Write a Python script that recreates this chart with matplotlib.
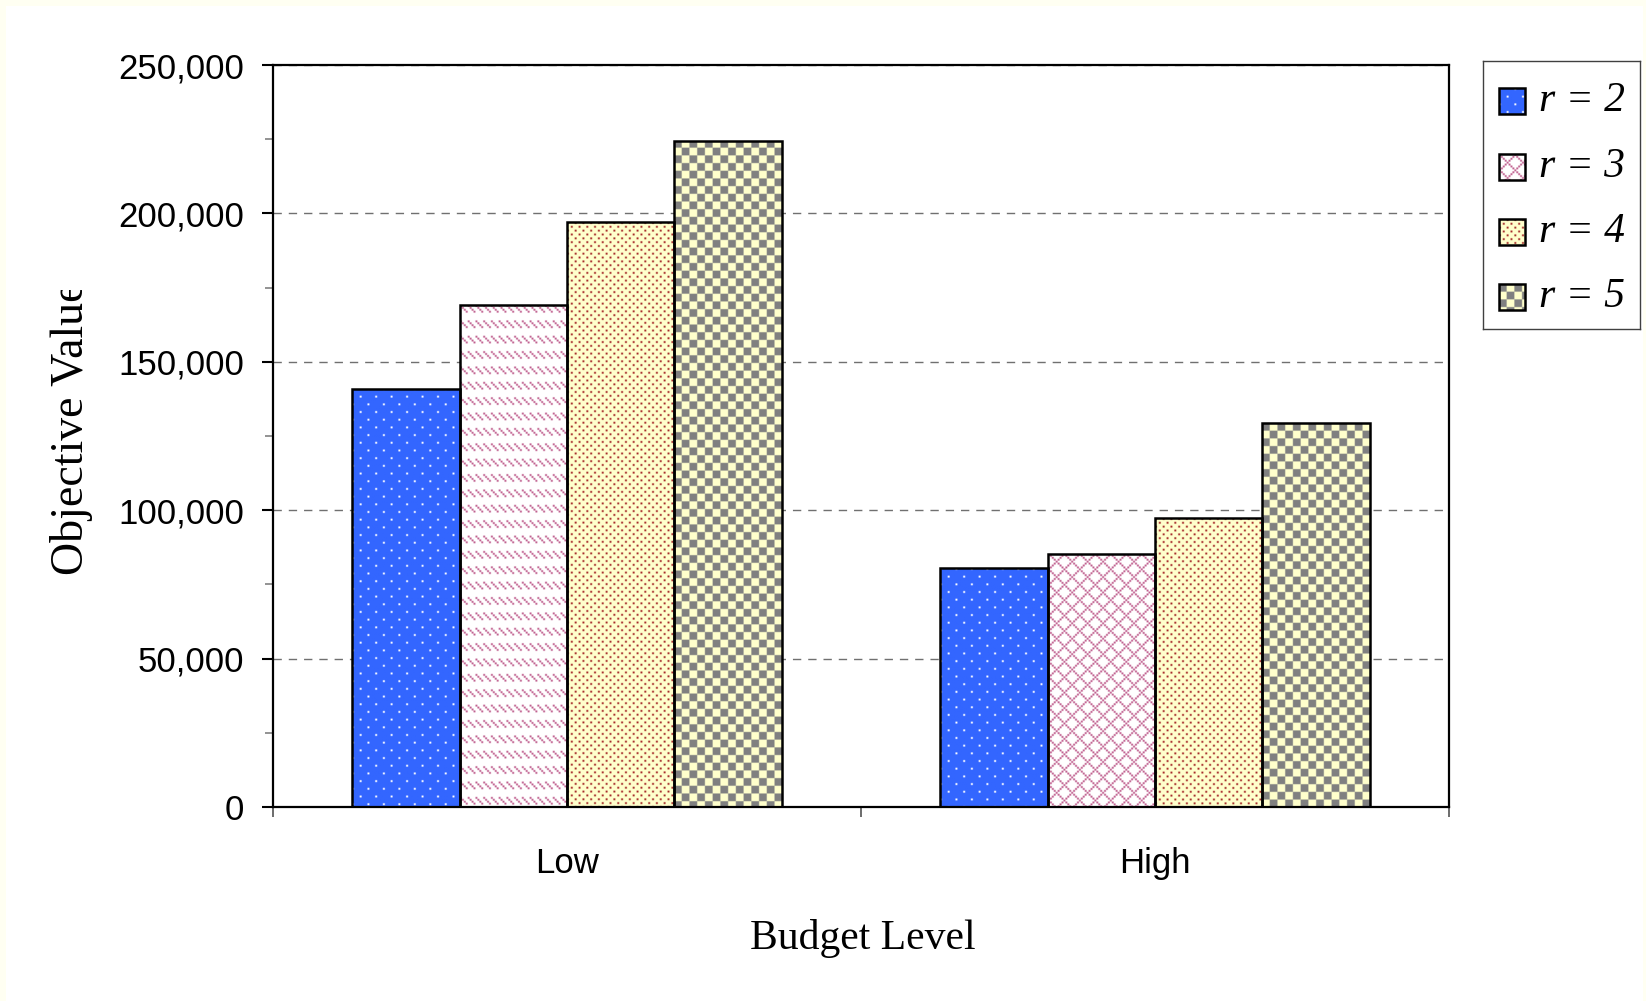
import numpy as np
import matplotlib
matplotlib.use('Agg')
import matplotlib.pyplot as plt
from matplotlib.patches import Rectangle
from matplotlib.ticker import FuncFormatter, MultipleLocator
from matplotlib.transforms import Bbox, TransformedBbox

budget_levels = ['Low', 'High']
series_labels = ['r = 2', 'r = 3', 'r = 4', 'r = 5']
values_low = [141000, 169000, 197000, 224500]
values_high = [80500, 85300, 97300, 129300]
y_ticks = [0, 50000, 100000, 150000, 200000, 250000]

W_PX, H_PX, DPI = 1646, 1001, 100
UNIT = 1.92  # screen pixels per pattern cell

# fill pattern per series (Low group uses a dashed diagonal for r = 3)
fills_low = ['dots5', 'dashdiag', 'dots25', 'checker']
fills_high = ['dots5', 'cross', 'dots25', 'checker']
fg_colors = ['#ffffff', '#c0608f', '#a52a2a', '#808080']
bg_colors = ['#3366ff', '#ffffff', '#ffffcc', '#ffffcc']


def tile_mask(name):
    r, c = np.mgrid[0:8, 0:8]
    if name == 'dots5':
        return ((r == 0) & (c == 0)) | ((r == 4) & (c == 4))
    if name == 'dots25':
        return (r % 2 == 0) & (c % 4 == r % 4)
    if name == 'dashdiag':
        return (r < 4) & (c % 4 == r)
    if name == 'cross':
        return ((r - c) % 8 == 0) | ((r + c) % 8 == 0)
    if name == 'checker':
        return ((r // 4) + (c // 4)) % 2 == 0
    return np.zeros((8, 8), bool)


def texture(name, fg, bg, nh, nw):
    mask = np.tile(tile_mask(name), (nh // 8 + 1, nw // 8 + 1))[:nh, :nw]
    fg = np.array(matplotlib.colors.to_rgb(fg))
    bg = np.array(matplotlib.colors.to_rgb(bg))
    return np.where(mask[..., None], fg, bg)


def fill_texture(ax, patch, x0, x1, y0, y1, name, fg, bg):
    (px0, py0), (px1, py1) = ax.transData.transform([(x0, y0), (x1, y1)])
    wpx, hpx = abs(px1 - px0), abs(py1 - py0)
    if wpx < 1 or hpx < 1:
        return
    nw = int(np.ceil(wpx / UNIT)) + 1
    nh = int(np.ceil(hpx / UNIT)) + 1
    ux = (x1 - x0) / wpx * UNIT
    uy = (y1 - y0) / hpx * UNIT
    im = ax.imshow(texture(name, fg, bg, nh, nw),
                   extent=(x0, x0 + nw * ux, y1 - nh * uy, y1),
                   origin='upper', aspect='auto', interpolation='antialiased',
                   zorder=2.5)
    im.set_clip_path(patch)


def main():
    plt.rcParams['font.family'] = 'Liberation Sans'
    fig = plt.figure(figsize=(W_PX / DPI, H_PX / DPI), dpi=DPI, facecolor='#fffff2')
    # white page inside the thin ivory border
    fig.patches.append(Rectangle((6 / W_PX, 0), 1 - 9 / W_PX, 1 - 6 / H_PX,
                                 transform=fig.transFigure, facecolor='white',
                                 edgecolor='none', zorder=-10))

    ax = fig.add_axes([273 / W_PX, 194 / H_PX, 1176 / W_PX, 742 / H_PX])
    ax.set_facecolor('white')

    x = np.arange(len(budget_levels))
    width = 0.1824
    groups = [values_low, values_high]
    fills = [fills_low, fills_high]

    all_bars = []
    for k in range(len(series_labels)):
        vals = [g[k] for g in groups]
        bars = ax.bar(x + (k - 1.5) * width, vals, width, facecolor='none',
                      edgecolor='black', linewidth=1.8, zorder=3)
        all_bars.append(bars)

    ax.set_xlim(-0.5, 1.5)
    ax.set_ylim(0, 250000)

    for k, bars in enumerate(all_bars):
        for i, rect in enumerate(bars):
            x0 = rect.get_x()
            fill_texture(ax, rect, x0, x0 + rect.get_width(), 0, rect.get_height(),
                         fills[i][k], fg_colors[k], bg_colors[k])

    # y axis
    ax.set_yticks(y_ticks)
    ax.yaxis.set_major_formatter(FuncFormatter(lambda v, _: f'{v:,.0f}'))
    ax.yaxis.set_minor_locator(MultipleLocator(25000))
    ax.tick_params(axis='y', which='major', length=8, width=1.5, labelsize=25, pad=13)
    ax.tick_params(axis='y', which='minor', length=6, width=1.2, color='#808080')
    ax.yaxis.grid(True, which='major', linestyle=(0, (6, 5)), color='#707070', linewidth=1.0)
    ax.set_axisbelow(True)

    # x axis: ticks on category boundaries, labels at centres
    ax.set_xticks([-0.5, 0.5, 1.5])
    ax.set_xticklabels(['', '', ''])
    ax.set_xticks(x, minor=True)
    ax.set_xticklabels(budget_levels, minor=True)
    ax.tick_params(axis='x', which='major', length=7.5, width=1.3, color='#606060')
    ax.tick_params(axis='x', which='minor', length=0, labelsize=25, pad=29)

    for sp in ax.spines.values():
        sp.set_linewidth(1.6)
        sp.set_color('black')

    # y label, cut off at the top edge of its box
    ylab = fig.text(72 / W_PX, 1 - 428 / H_PX, 'Objective Value', rotation=90,
                    ha='center', va='center', fontsize=33, family='Liberation Serif')
    ylab.set_clip_box(TransformedBbox(Bbox.from_extents(0, 0, 1, 1 - 290 / H_PX),
                                      fig.transFigure))
    ylab.set_clip_on(True)

    fig.text(863 / W_PX, 1 - 938 / H_PX, 'Budget Level', ha='center', va='center',
             fontsize=30, family='Liberation Serif')

    # legend box
    lw_, lh_ = 157, 268
    lax = fig.add_axes([1483 / W_PX, 1 - 329 / H_PX, lw_ / W_PX, lh_ / H_PX])
    lax.set_xlim(0, lw_)
    lax.set_ylim(0, lh_)
    lax.set_xticks([])
    lax.set_yticks([])
    lax.set_facecolor('white')
    for sp in lax.spines.values():
        sp.set_linewidth(1.0)
        sp.set_color('#404040')
    row_y = [40, 106, 171, 236]
    for k, label in enumerate(series_labels):
        yc = lh_ - row_y[k]
        sw = Rectangle((16, yc - 13), 26, 26, facecolor='none', edgecolor='black',
                       linewidth=1.8, zorder=3)
        lax.add_patch(sw)
        fill_texture(lax, sw, 16, 42, yc - 13, yc + 13, fills_high[k],
                     fg_colors[k], bg_colors[k])
        lax.text(56, yc, label, va='center', ha='left', fontsize=30,
                 fontstyle='italic', family='Liberation Serif')

    fig.savefig('out.png', dpi=DPI, facecolor=fig.get_facecolor())


if __name__ == '__main__':
    main()
